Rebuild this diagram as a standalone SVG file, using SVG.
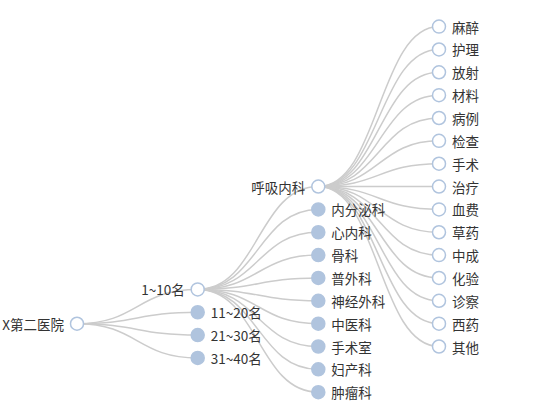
<svg xmlns="http://www.w3.org/2000/svg" width="550" height="420" viewBox="0 0 550 420">
<style>
.e{fill:none;stroke:#ccc;stroke-width:1.5}
.n{fill:#fff;stroke:#b0c4de;stroke-width:1.5}
.c{fill:#b0c4de;stroke:#b0c4de;stroke-width:1.5}
text{font-family:"Noto Sans CJK SC","Liberation Sans",sans-serif;font-size:13.5px;fill:#333;dominant-baseline:central}
.l{text-anchor:end}
</style>
<rect width="550" height="420" fill="#fff"/>
<g id="connectors">
<path class="e" d="M77 323.7C137.35 323.7 137.35 289.4 197.7 289.4"/>
<path class="e" d="M77 323.7C137.35 323.7 137.35 312.25 197.7 312.25"/>
<path class="e" d="M77 323.7C137.35 323.7 137.35 335.1 197.7 335.1"/>
<path class="e" d="M77 323.7C137.35 323.7 137.35 357.95 197.7 357.95"/>
<path class="e" d="M197.7 289.4C258 289.4 258 186.55 318.3 186.55"/>
<path class="e" d="M197.7 289.4C258 289.4 258 209.4 318.3 209.4"/>
<path class="e" d="M197.7 289.4C258 289.4 258 232.25 318.3 232.25"/>
<path class="e" d="M197.7 289.4C258 289.4 258 255.1 318.3 255.1"/>
<path class="e" d="M197.7 289.4C258 289.4 258 277.95 318.3 277.95"/>
<path class="e" d="M197.7 289.4C258 289.4 258 300.8 318.3 300.8"/>
<path class="e" d="M197.7 289.4C258 289.4 258 323.65 318.3 323.65"/>
<path class="e" d="M197.7 289.4C258 289.4 258 346.5 318.3 346.5"/>
<path class="e" d="M197.7 289.4C258 289.4 258 369.35 318.3 369.35"/>
<path class="e" d="M197.7 289.4C258 289.4 258 392.2 318.3 392.2"/>
<path class="e" d="M318.3 186.55C378.65 186.55 378.65 26.6 439 26.6"/>
<path class="e" d="M318.3 186.55C378.65 186.55 378.65 49.45 439 49.45"/>
<path class="e" d="M318.3 186.55C378.65 186.55 378.65 72.3 439 72.3"/>
<path class="e" d="M318.3 186.55C378.65 186.55 378.65 95.15 439 95.15"/>
<path class="e" d="M318.3 186.55C378.65 186.55 378.65 118 439 118"/>
<path class="e" d="M318.3 186.55C378.65 186.55 378.65 140.85 439 140.85"/>
<path class="e" d="M318.3 186.55C378.65 186.55 378.65 163.7 439 163.7"/>
<path class="e" d="M318.3 186.55C378.65 186.55 378.65 186.55 439 186.55"/>
<path class="e" d="M318.3 186.55C378.65 186.55 378.65 209.4 439 209.4"/>
<path class="e" d="M318.3 186.55C378.65 186.55 378.65 232.25 439 232.25"/>
<path class="e" d="M318.3 186.55C378.65 186.55 378.65 255.1 439 255.1"/>
<path class="e" d="M318.3 186.55C378.65 186.55 378.65 277.95 439 277.95"/>
<path class="e" d="M318.3 186.55C378.65 186.55 378.65 300.8 439 300.8"/>
<path class="e" d="M318.3 186.55C378.65 186.55 378.65 323.65 439 323.65"/>
<path class="e" d="M318.3 186.55C378.65 186.55 378.65 346.5 439 346.5"/>
</g>
<g id="root"><circle class="n" cx="77" cy="323.7" r="6.5"/><text class="l" x="64" y="323.7">X第二医院</text></g>
<g id="n1-10"><circle class="n" cx="197.7" cy="289.4" r="6.5"/><text class="l" x="184.7" y="289.4">1~10名</text></g>
<g id="n11-20"><circle class="c" cx="197.7" cy="312.25" r="6.5"/><text x="210.7" y="312.25">11~20名</text></g>
<g id="n21-30"><circle class="c" cx="197.7" cy="335.1" r="6.5"/><text x="210.7" y="335.1">21~30名</text></g>
<g id="n31-40"><circle class="c" cx="197.7" cy="357.95" r="6.5"/><text x="210.7" y="357.95">31~40名</text></g>
<g id="huxi"><circle class="n" cx="318.3" cy="186.55" r="6.5"/><text class="l" x="305.3" y="186.55">呼吸内科</text></g>
<g id="neifenmi"><circle class="c" cx="318.3" cy="209.4" r="6.5"/><text x="331.3" y="209.4">内分泌科</text></g>
<g id="xinnei"><circle class="c" cx="318.3" cy="232.25" r="6.5"/><text x="331.3" y="232.25">心内科</text></g>
<g id="gu"><circle class="c" cx="318.3" cy="255.1" r="6.5"/><text x="331.3" y="255.1">骨科</text></g>
<g id="puwai"><circle class="c" cx="318.3" cy="277.95" r="6.5"/><text x="331.3" y="277.95">普外科</text></g>
<g id="shenjing"><circle class="c" cx="318.3" cy="300.8" r="6.5"/><text x="331.3" y="300.8">神经外科</text></g>
<g id="zhongyi"><circle class="c" cx="318.3" cy="323.65" r="6.5"/><text x="331.3" y="323.65">中医科</text></g>
<g id="shoushushi"><circle class="c" cx="318.3" cy="346.5" r="6.5"/><text x="331.3" y="346.5">手术室</text></g>
<g id="fuchan"><circle class="c" cx="318.3" cy="369.35" r="6.5"/><text x="331.3" y="369.35">妇产科</text></g>
<g id="zhongliu"><circle class="c" cx="318.3" cy="392.2" r="6.5"/><text x="331.3" y="392.2">肿瘤科</text></g>
<g id="mazui"><circle class="n" cx="439" cy="26.6" r="6.5"/><text x="452" y="26.6">麻醉</text></g>
<g id="huli"><circle class="n" cx="439" cy="49.45" r="6.5"/><text x="452" y="49.45">护理</text></g>
<g id="fangshe"><circle class="n" cx="439" cy="72.3" r="6.5"/><text x="452" y="72.3">放射</text></g>
<g id="cailiao"><circle class="n" cx="439" cy="95.15" r="6.5"/><text x="452" y="95.15">材料</text></g>
<g id="bingli"><circle class="n" cx="439" cy="118" r="6.5"/><text x="452" y="118">病例</text></g>
<g id="jiancha"><circle class="n" cx="439" cy="140.85" r="6.5"/><text x="452" y="140.85">检查</text></g>
<g id="shoushu"><circle class="n" cx="439" cy="163.7" r="6.5"/><text x="452" y="163.7">手术</text></g>
<g id="zhiliao"><circle class="n" cx="439" cy="186.55" r="6.5"/><text x="452" y="186.55">治疗</text></g>
<g id="xuefei"><circle class="n" cx="439" cy="209.4" r="6.5"/><text x="452" y="209.4">血费</text></g>
<g id="caoyao"><circle class="n" cx="439" cy="232.25" r="6.5"/><text x="452" y="232.25">草药</text></g>
<g id="zhongcheng"><circle class="n" cx="439" cy="255.1" r="6.5"/><text x="452" y="255.1">中成</text></g>
<g id="huayan"><circle class="n" cx="439" cy="277.95" r="6.5"/><text x="452" y="277.95">化验</text></g>
<g id="zhencha"><circle class="n" cx="439" cy="300.8" r="6.5"/><text x="452" y="300.8">诊察</text></g>
<g id="xiyao"><circle class="n" cx="439" cy="323.65" r="6.5"/><text x="452" y="323.65">西药</text></g>
<g id="qita"><circle class="n" cx="439" cy="346.5" r="6.5"/><text x="452" y="346.5">其他</text></g>
</svg>
